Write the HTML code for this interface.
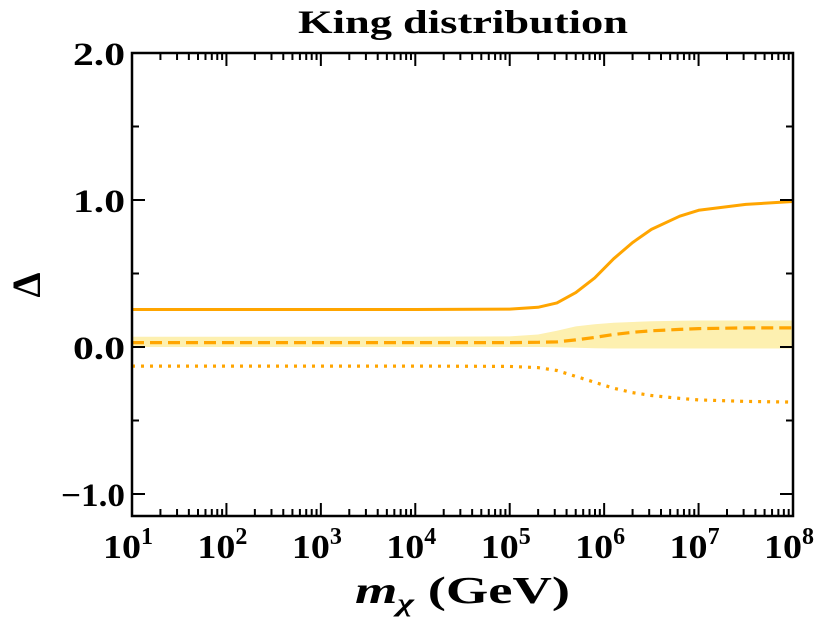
<!DOCTYPE html>
<html><head><meta charset="utf-8"><style>
body{margin:0;background:#fff;}
svg text{font-family:"Liberation Serif",serif;font-weight:bold;fill:#000;}
</style></head><body>
<svg id="chart" width="830" height="621" viewBox="0 0 830 621" xmlns="http://www.w3.org/2000/svg">
<text x="298" y="33" font-size="33" textLength="330" lengthAdjust="spacingAndGlyphs">King distribution</text>
<g id="plot"></g>
<g id="axes"></g>
<text x="355" y="603" font-size="38" textLength="215" lengthAdjust="spacingAndGlyphs"><tspan font-style="italic">m</tspan><tspan font-size="25" dy="8" font-style="italic">χ</tspan><tspan dy="-8"> (GeV)</tspan></text>
<text x="0" y="0" font-size="40" text-anchor="middle" transform="translate(40,285) rotate(-90)">Δ</text>
</svg>
<script>
const logMass=[1,2,3,4,5,5.3,5.5,5.7,5.9,6.1,6.3,6.5,6.8,7,7.5,8];
const solidDelta=[0.255,0.255,0.255,0.255,0.258,0.27,0.3,0.37,0.47,0.6,0.71,0.8,0.89,0.93,0.97,0.99];
const dashedDelta=[0.03,0.03,0.03,0.03,0.03,0.032,0.035,0.048,0.065,0.085,0.1,0.11,0.12,0.125,0.13,0.13];
const bandUpper=[0.07,0.07,0.07,0.07,0.072,0.085,0.11,0.14,0.155,0.165,0.17,0.175,0.178,0.18,0.18,0.18];
const bandLower=[0.0,0.0,0.0,0.0,0.0,0.0,-0.002,-0.005,-0.008,-0.01,-0.01,-0.01,-0.01,-0.01,-0.01,-0.01];
const dottedDelta=[-0.13,-0.13,-0.13,-0.13,-0.132,-0.14,-0.16,-0.2,-0.24,-0.28,-0.31,-0.33,-0.35,-0.36,-0.37,-0.375];
const yTicks=[-1.0,0.0,1.0,2.0];
const yTickLabels=["\u22121.0","0.0","1.0","2.0"];
const xTicks=[1,2,3,4,5,6,7,8];

const L=132,R=793,T=53,B=516;
const xs=v=>L+(v-1)/7*(R-L);
const ys=v=>347-v*147;
const NS="http://www.w3.org/2000/svg";
const plot=document.getElementById('plot'),axes=document.getElementById('axes');
function mk(tag,attrs,parent){const e=document.createElementNS(NS,tag);for(const k in attrs)e.setAttribute(k,attrs[k]);parent.appendChild(e);return e;}
function path(arr){return arr.map((v,i)=>(i?'L':'M')+xs(logMass[i]).toFixed(1)+','+ys(v).toFixed(1)).join('');}

let bd=path(bandUpper);
for(let i=logMass.length-1;i>=0;i--)bd+='L'+xs(logMass[i]).toFixed(1)+','+ys(bandLower[i]).toFixed(1);
const band=mk('path',{d:bd+'Z',fill:'#fdf0b0',stroke:'none'},plot);


const s=mk('path',{d:path(solidDelta),fill:'none',stroke:'#ffa500','stroke-width':3,'stroke-linejoin':'round'},plot);


const d=mk('path',{d:path(dashedDelta),fill:'none',stroke:'#ffa500','stroke-width':3.2,'stroke-dasharray':'12,6'},plot);


const o=mk('path',{d:path(dottedDelta),fill:'none',stroke:'#ffa500','stroke-width':3.2,'stroke-dasharray':'3,6'},plot);



const frame=mk('rect',{x:L,y:T,width:R-L,height:B-T,fill:'none',stroke:'#000','stroke-width':2.5},axes);


xTicks.forEach((t,i)=>{
  const x=xs(t);
  mk('line',{x1:x,y1:B,x2:x,y2:B-13,stroke:'#000','stroke-width':2},axes);
  mk('line',{x1:x,y1:T,x2:x,y2:T+13,stroke:'#000','stroke-width':2},axes);
  if(i<xTicks.length-1){for(let k=2;k<10;k++){const xm=xs(t+Math.log10(k));
    mk('line',{x1:xm,y1:B,x2:xm,y2:B-7,stroke:'#000','stroke-width':2},axes);
    mk('line',{x1:xm,y1:T,x2:xm,y2:T+7,stroke:'#000','stroke-width':2},axes);}}
  const tx=mk('text',{x:x-29,y:558,'font-size':34},axes);
  
  
  tx.innerHTML='<tspan textLength="38" lengthAdjust="spacingAndGlyphs">10</tspan><tspan font-size="24" dy="-14">'+t+'</tspan>';
});
for(let v=-1.0;v<=2.01;v+=0.5){const y=ys(v),maj=Math.abs(v-Math.round(v))<0.01;
  mk('line',{x1:L,y1:y,x2:L+(maj?13:7),y2:y,stroke:'#000','stroke-width':2},axes);
  mk('line',{x1:R,y1:y,x2:R-(maj?13:7),y2:y,stroke:'#000','stroke-width':2},axes);}
yTicks.forEach((v,i)=>{
  const w=yTickLabels[i].length>3?64:52;
  const tx=mk('text',{x:125-w,y:ys(v)+12,'font-size':33,textLength:w,lengthAdjust:'spacingAndGlyphs'},axes);
  
  
  tx.textContent=yTickLabels[i];
});
</script>
</body></html>
